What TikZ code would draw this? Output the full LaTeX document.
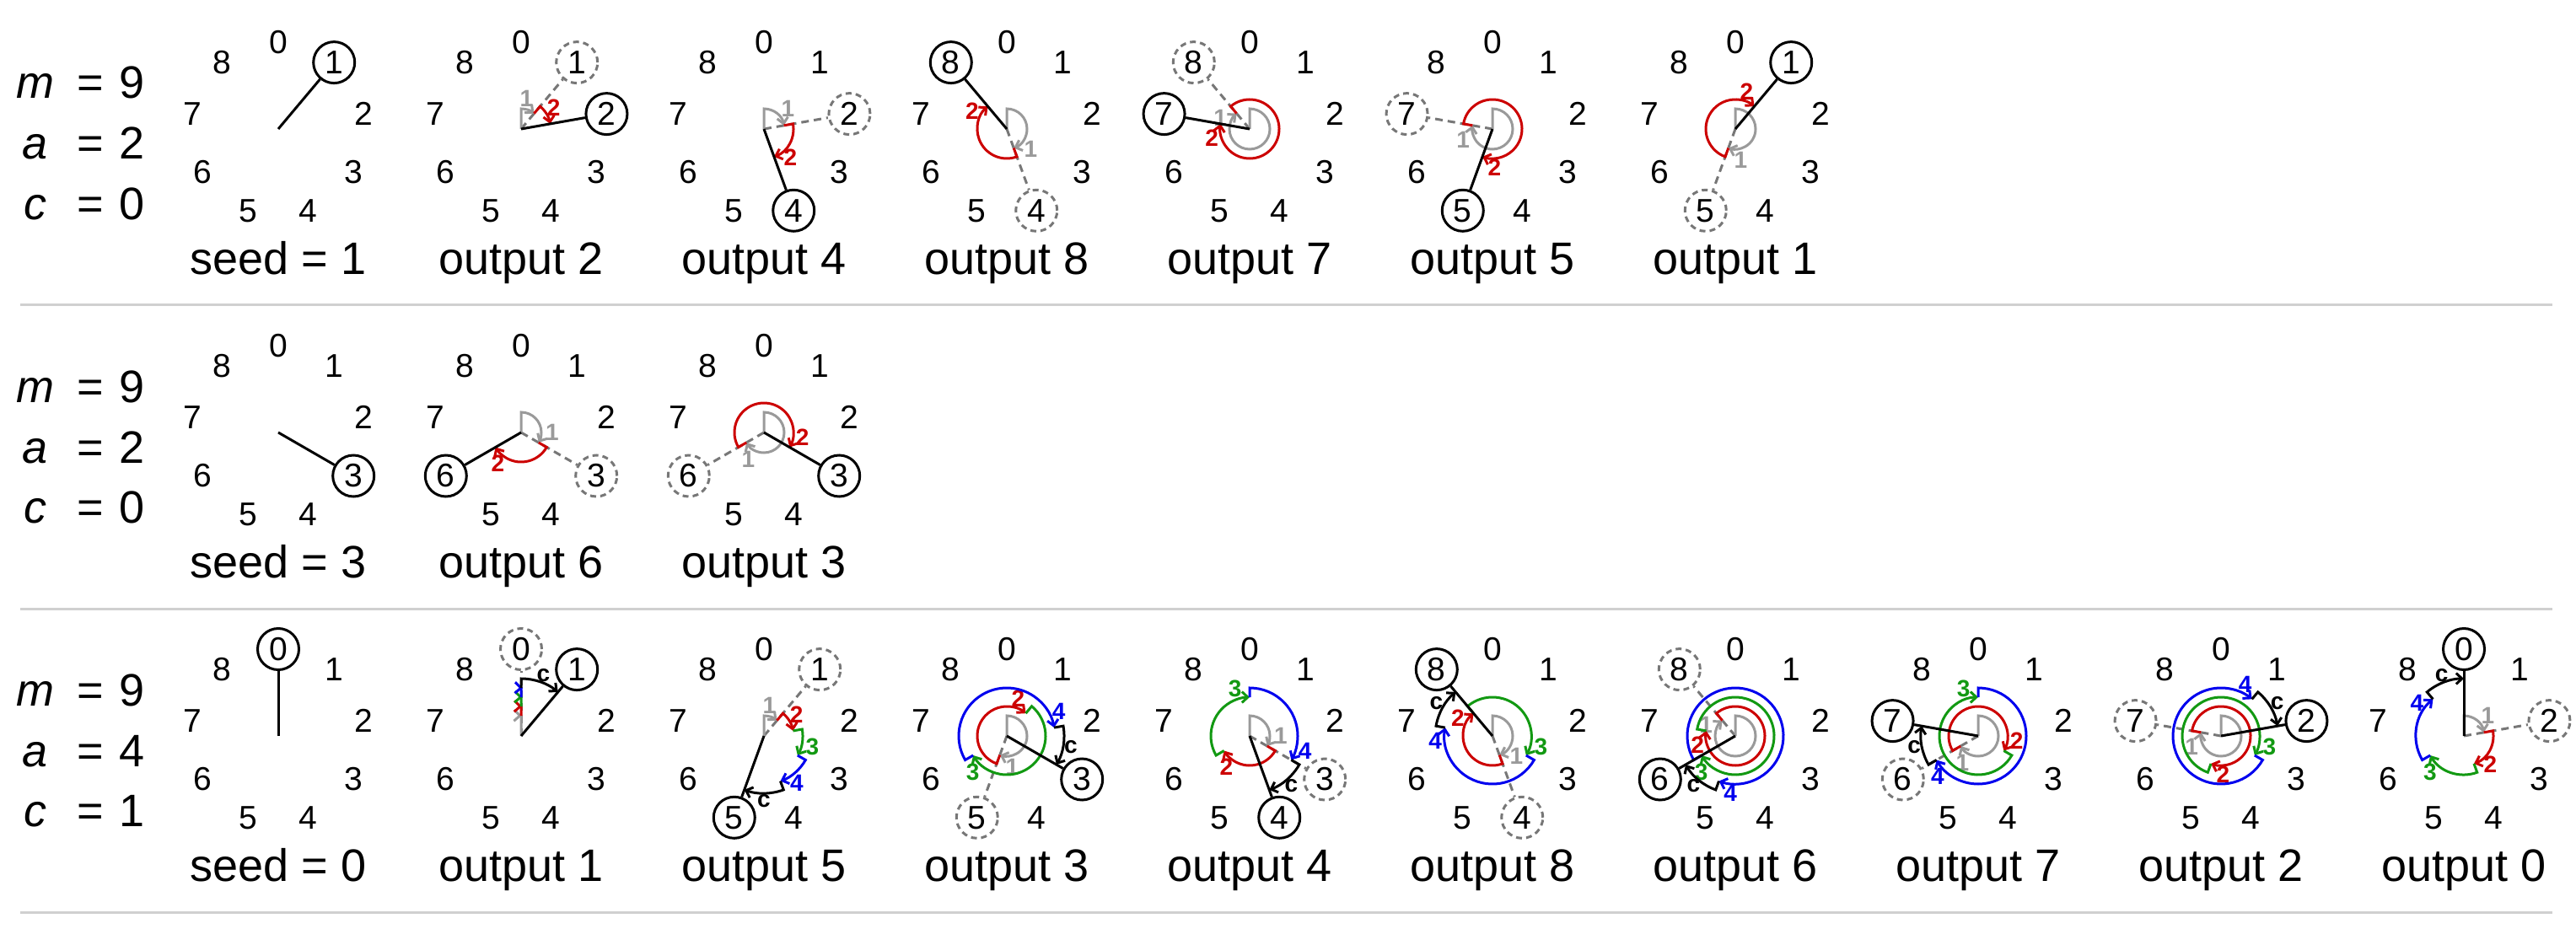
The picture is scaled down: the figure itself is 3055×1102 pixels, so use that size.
\documentclass[tikz,border=0pt]{standalone}
\usepackage{fontspec}
\setmainfont{Liberation Sans}
\usetikzlibrary{arrows.meta}
\definecolor{arcgray}{HTML}{9A9A9A}
\definecolor{dgray}{HTML}{777777}
\definecolor{cred}{HTML}{CC0000}
\definecolor{cgreen}{HTML}{129912}
\definecolor{cblue}{HTML}{0000EE}
\definecolor{sepgray}{HTML}{D0D0D0}
\newcommand\znumfont{\fontsize{39}{39}\selectfont}
\newcommand\zcapfont{\fontsize{54}{54}\selectfont}
\newcommand\zlblfont{\fontsize{28}{28}\selectfont\bfseries}
\tikzset{
  num/.style={font=\znumfont, inner sep=0pt},
  newnum/.style={num, circle, draw=black, line width=3pt, minimum size=49pt},
  prevnum/.style={num, circle, draw=dgray, line width=3pt, minimum size=49pt, dash pattern=on 7pt off 5pt},
  hand/.style={draw=black, line width=3pt},
  prevhand/.style={draw=dgray, line width=3pt, dash pattern=on 9pt off 6pt},
  spiral/.style={line width=3pt, -{Straight Barb[length=7pt,width=13pt]}},
  arc1/.style={spiral, draw=arcgray},
  arc2/.style={spiral, draw=cred},
  arc3/.style={spiral, draw=cgreen},
  arc4/.style={spiral, draw=cblue},
  arc5/.style={spiral, draw=black},
  lbl1/.style={font=\zlblfont, text=arcgray, inner sep=0pt},
  lbl2/.style={font=\zlblfont, text=cred, inner sep=0pt},
  lbl3/.style={font=\zlblfont, text=cgreen, inner sep=0pt},
  lbl4/.style={font=\zlblfont, text=cblue, inner sep=0pt},
  lblc/.style={font=\zlblfont, text=black, inner sep=0pt},
  captext/.style={font=\zcapfont, anchor=base, inner sep=0pt},
  param/.style={font=\zcapfont, anchor=base, inner sep=0pt},
  sepline/.style={draw=sepgray, line width=3pt},
}
% id cx cy new prev a c caption
\newcommand\clock[8]{%
  \coordinate (#1-o) at (#2,-#3);
  \foreach \k in {0,...,8}{%
    \pgfmathsetmacro\zAng{90-40*\k}%
    \ifnum\k=#4\relax
      \node[newnum] (#1-\k) at ([shift={(\zAng:103)}]#1-o) {\k};
    \else\ifnum\k=#5\relax
      \node[prevnum] (#1-\k) at ([shift={(\zAng:103)}]#1-o) {\k};
    \else
      \node[num] (#1-\k) at ([shift={(\zAng:103)}]#1-o) {\k};
    \fi\fi
  }%
  \node[captext] (#1-cap) at ([yshift=-172pt]#1-o) {#8};
  \ifnum#5>-1\relax
    \draw[prevhand] (#1-o) -- (#1-#5);
    \pgfmathsetmacro\zTh{40*#5}%
    \foreach \j in {1,...,#6}{%
      \pgfmathsetmacro\zRin{ifthenelse(\j==1,0,11*\j+2)}%
      \pgfmathsetmacro\zRout{11*\j+13}%
      \pgfmathsetmacro\zSa{90-mod((\j-1)*\zTh,360)}%
      \pgfmathsetmacro\zEa{\zSa-max(\zTh,2)}%
      \draw[arc\j] ([shift={(\zSa:\zRin)}]#1-o) -- ([shift={(\zSa:\zRout)}]#1-o)
        arc[start angle=\zSa, end angle=\zEa, radius=\zRout];
      \ifdim\zTh pt>0pt
        \ifcase\j\or\def\zOff{30}\def\zD{13}\or\def\zOff{23}\def\zD{11}\or\def\zOff{17}\def\zD{13}\or\def\zOff{15}\def\zD{11}\fi
        \pgfmathsetmacro\zLa{\zSa-\zTh+\zOff}%
        \pgfmathsetmacro\zLr{\zRout+\zD}%
        \node[lbl\j] (#1-l\j) at ([shift={(\zLa:\zLr)}]#1-o) {\j};
      \fi
    }%
    \ifnum#7>0\relax
      \pgfmathsetmacro\zSc{90-mod(#6*\zTh,360)}%
      \pgfmathsetmacro\zEc{\zSc-40*#7}%
      \draw[arc5] ([shift={(\zSc:57)}]#1-o) -- ([shift={(\zSc:68)}]#1-o)
        arc[start angle=\zSc, end angle=\zEc, radius=68];
      \pgfmathsetmacro\zLc{\zEc+20}%
      \node[lblc] (#1-lc) at ([shift={(\zLc:77)}]#1-o) {c};
    \fi
  \fi
  \draw[hand] (#1-o) -- (#1-#4);
}
% id cy m a c
\newcommand\params[5]{%
  \node[param] (#1-m) at (42,{-#2+36}) {\itshape m};
  \node[param] (#1-me) at (107.5,{-#2+36}) {=};
  \node[param] (#1-mv) at (157,{-#2+36}) {#3};
  \node[param] (#1-a) at (42,{-#2-36}) {\itshape a};
  \node[param] (#1-ae) at (107.5,{-#2-36}) {=};
  \node[param] (#1-av) at (157,{-#2-36}) {#4};
  \node[param] (#1-c) at (42,{-#2-107}) {\itshape c};
  \node[param] (#1-ce) at (107.5,{-#2-107}) {=};
  \node[param] (#1-cv) at (157,{-#2-107}) {#5};
}
\begin{document}
\begin{tikzpicture}[x=1pt,y=1pt]
\useasboundingbox (0,0) rectangle (3055,-1102);
% row 1
\params{pA}{153}{9}{2}{0}
\clock{a0}{330}{153}{1}{-1}{2}{0}{seed = 1}
\clock{a1}{618}{153}{2}{1}{2}{0}{output 2}
\clock{a2}{906}{153}{4}{2}{2}{0}{output 4}
\clock{a3}{1194}{153}{8}{4}{2}{0}{output 8}
\clock{a4}{1482}{153}{7}{8}{2}{0}{output 7}
\clock{a5}{1770}{153}{5}{7}{2}{0}{output 5}
\clock{a6}{2058}{153}{1}{5}{2}{0}{output 1}
% row 2
\params{pB}{513}{9}{2}{0}
\clock{b0}{330}{513}{3}{-1}{2}{0}{seed = 3}
\clock{b1}{618}{513}{6}{3}{2}{0}{output 6}
\clock{b2}{906}{513}{3}{6}{2}{0}{output 3}
% row 3
\params{pC}{873}{9}{4}{1}
\clock{c0}{330}{873}{0}{-1}{4}{1}{seed = 0}
\clock{c1}{618}{873}{1}{0}{4}{1}{output 1}
\clock{c2}{906}{873}{5}{1}{4}{1}{output 5}
\clock{c3}{1194}{873}{3}{5}{4}{1}{output 3}
\clock{c4}{1482}{873}{4}{3}{4}{1}{output 4}
\clock{c5}{1770}{873}{8}{4}{4}{1}{output 8}
\clock{c6}{2058}{873}{6}{8}{4}{1}{output 6}
\clock{c7}{2346}{873}{7}{6}{4}{1}{output 7}
\clock{c8}{2634}{873}{2}{7}{4}{1}{output 2}
\clock{c9}{2922}{873}{0}{2}{4}{1}{output 0}
% separators
\draw[sepline] (24,-361) -- (3027,-361);
\draw[sepline] (24,-722) -- (3027,-722);
\draw[sepline] (24,-1082) -- (3027,-1082);
\end{tikzpicture}
\end{document}
